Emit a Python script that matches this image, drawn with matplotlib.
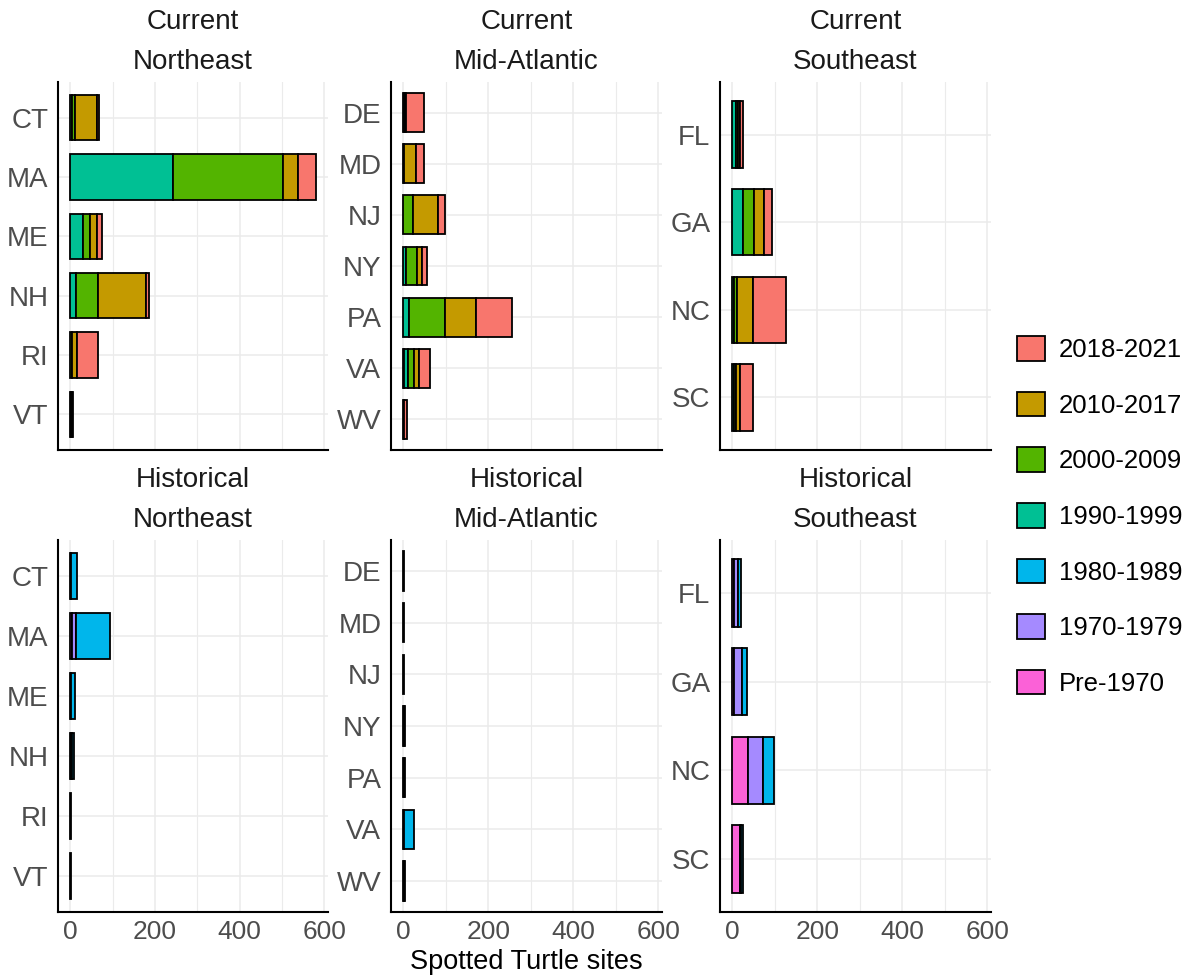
import matplotlib
matplotlib.use("Agg")
import matplotlib.pyplot as plt
from matplotlib.patches import Patch
import numpy as np

plt.rcParams['font.family'] = ['Liberation Sans', 'DejaVu Sans']

periods = ["Pre-1970", "1970-1979", "1980-1989", "1990-1999",
           "2000-2009", "2010-2017", "2018-2021"]
colors = ["#FB61D7", "#A58AFF", "#00B6EB", "#00C094",
          "#53B400", "#C49A00", "#F8766D"]

ne_states = ["CT", "MA", "ME", "NH", "RI", "VT"]
ma_states = ["DE", "MD", "NJ", "NY", "PA", "VA", "WV"]
se_states = ["FL", "GA", "NC", "SC"]

# sites per period (Pre-1970 ... 2018-2021), one row per state
cur_ne = [
    [0, 0, 0, 4, 8, 50, 6],
    [0, 0, 0, 242, 260, 37, 41],
    [0, 0, 0, 29, 18, 16, 12],
    [0, 0, 0, 14, 52, 112, 8],
    [0, 0, 0, 0, 3, 13, 50],
    [0, 0, 0, 1, 2, 2, 1],
]
cur_ma = [
    [0, 0, 0, 2, 2, 3, 41],
    [0, 0, 0, 0, 1, 28, 20],
    [0, 0, 0, 0, 22, 60, 15],
    [0, 0, 0, 6, 26, 12, 12],
    [0, 0, 0, 14, 83, 74, 84],
    [0, 0, 1, 11, 13, 12, 25],
    [0, 0, 0, 0, 0, 1, 8],
]
cur_se = [
    [0, 0, 0, 8, 6, 5, 5],
    [0, 0, 0, 24, 27, 23, 19],
    [0, 0, 0, 5, 6, 38, 78],
    [0, 0, 0, 4, 4, 11, 30],
]
hist_ne = [
    [0, 2, 13, 0, 0, 0, 0],
    [3, 10, 80, 0, 0, 0, 0],
    [0, 2, 10, 0, 0, 0, 0],
    [2, 3, 3, 0, 0, 0, 0],
    [0, 0, 2, 0, 0, 0, 0],
    [0, 0, 2, 0, 0, 0, 0],
]
hist_ma = [
    [0, 0, 2, 0, 0, 0, 0],
    [0, 0, 2, 0, 0, 0, 0],
    [0, 0, 2, 0, 0, 0, 0],
    [1, 1, 1, 0, 0, 0, 0],
    [1, 1, 1, 0, 0, 0, 0],
    [0, 2, 22, 0, 0, 0, 0],
    [1, 1, 1, 0, 0, 0, 0],
]
hist_se = [
    [5, 8, 7, 0, 0, 0, 0],
    [5, 18, 11, 0, 0, 0, 0],
    [37, 35, 25, 0, 0, 0, 0],
    [17, 4, 3, 0, 0, 0, 0],
]

panels = [
    ("Current", "Northeast", ne_states, cur_ne),
    ("Current", "Mid-Atlantic", ma_states, cur_ma),
    ("Current", "Southeast", se_states, cur_se),
    ("Historical", "Northeast", ne_states, hist_ne),
    ("Historical", "Mid-Atlantic", ma_states, hist_ma),
    ("Historical", "Southeast", se_states, hist_se),
]

W, H = 1204, 976
fig = plt.figure(figsize=(W / 100, H / 100), dpi=100)

col_x = [(58, 328), (391, 662), (720, 991)]
row_y = [(82, 450), (540, 912)]

xmax = max(np.sum(np.array(p[3]), axis=1).max() for p in panels)
xlim = (-0.05 * xmax, 1.05 * xmax)

for i, (status, region, states, vals) in enumerate(panels):
    r, c = divmod(i, 3)
    x0, x1 = col_x[c]
    y0, y1 = row_y[r]
    ax = fig.add_axes([x0 / W, 1 - y1 / H, (x1 - x0) / W, (y1 - y0) / H])
    vals = np.array(vals, dtype=float)
    ypos = np.arange(len(states))
    left = np.zeros(len(states))
    for j in range(len(periods)):
        m = vals[:, j] > 0
        ax.barh(ypos[m], vals[m, j], left=left[m], height=0.76,
                color=colors[j], edgecolor="black", linewidth=1.3, zorder=3)
        left += vals[:, j]
    ax.set_xlim(*xlim)
    ax.set_ylim(len(states) - 0.4, -0.6)
    ax.set_yticks(ypos)
    ax.set_yticklabels(states)
    ax.set_xticks([0, 200, 400, 600])
    ax.set_xticks([100, 300, 500], minor=True)
    if r == 0:
        ax.set_xticklabels([])
    ax.tick_params(axis="both", which="both", length=0, colors="#4D4D4D")
    ax.tick_params(axis="y", pad=7, labelsize=20)
    ax.tick_params(axis="x", pad=6, labelsize=19)
    ax.grid(True, which="major", color="#EBEBEB", linewidth=1.1, zorder=0)
    ax.grid(True, which="minor", axis="x", color="#EBEBEB", linewidth=0.8, zorder=0)
    ax.set_axisbelow(True)
    for s in ["top", "right"]:
        ax.spines[s].set_visible(False)
    for s in ["left", "bottom"]:
        ax.spines[s].set_linewidth(1.5)
        ax.spines[s].set_color("black")
    ax.annotate(status, xy=(0.5, 1), xycoords="axes fraction",
                xytext=(0, 43), textcoords="offset points",
                ha="center", va="center", fontsize=20, color="#1A1A1A")
    ax.annotate(region, xy=(0.5, 1), xycoords="axes fraction",
                xytext=(0, 14.5), textcoords="offset points",
                ha="center", va="center", fontsize=20, color="#1A1A1A")

mid = (col_x[1][0] + col_x[1][1]) / 2
fig.text(mid / W, 1 - 962 / H, "Spotted Turtle sites", ha="center",
         va="center", fontsize=19.5, color="black")

handles = [Patch(facecolor=colors[j], edgecolor="black", linewidth=1.3,
                 label=periods[j]) for j in range(len(periods) - 1, -1, -1)]
fig.legend(handles=handles, loc="center left",
           bbox_to_anchor=(1004 / W, 1 - 516 / H), frameon=False,
           fontsize=18.5, handlelength=1.1, handleheight=1.1,
           labelspacing=1.15, handletextpad=0.55, borderpad=0)

fig.savefig("out.png", dpi=100)
